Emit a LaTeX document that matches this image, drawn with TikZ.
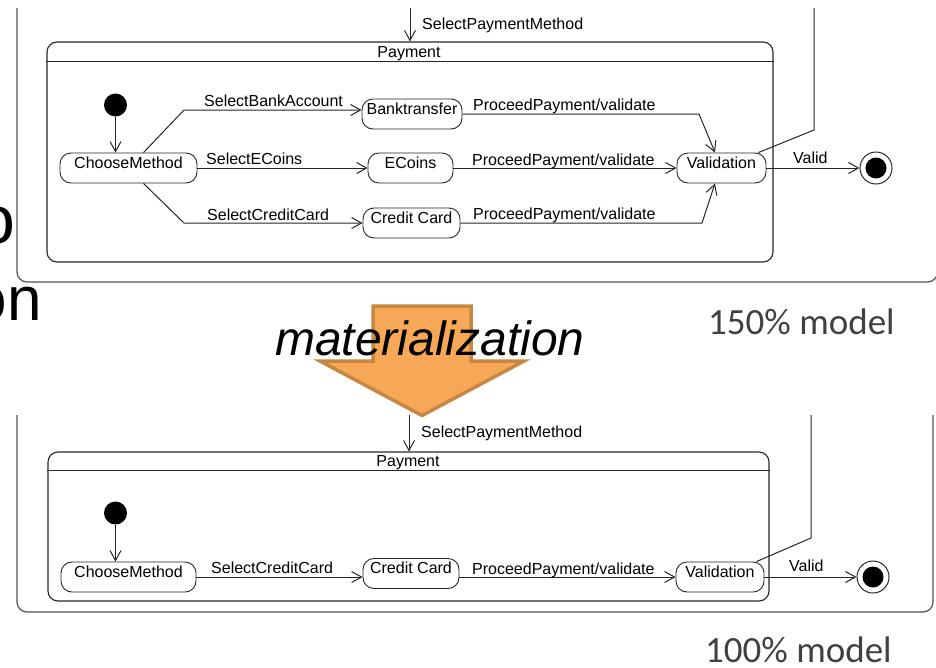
\documentclass[tikz,border=0pt]{standalone}
\usepackage{fontspec}
\setmainfont{Liberation Sans}
\newfontfamily\calibfont{Carlito}
\usetikzlibrary{arrows.meta}

\definecolor{linecol}{HTML}{262626}
\definecolor{framecol}{HTML}{505050}
\definecolor{arrowfill}{RGB}{247,168,86}
\definecolor{arrowedge}{RGB}{200,135,65}
\definecolor{notecol}{HTML}{404040}

\tikzset{
  umlstate/.style={draw=linecol, line width=0.9pt, rounded corners=11pt,
    inner xsep=0pt, inner ysep=3.5pt, text height=11.5pt, text depth=11.5pt,
    font=\fontsize{16}{18}\selectfont},
  composite/.style={draw=linecol, line width=1.1pt, rounded corners=10pt, inner sep=0pt},
  outerframe/.style={draw=framecol, line width=1.2pt, rounded corners=10pt},
  initst/.style={circle, fill=black, minimum size=23pt, inner sep=0pt},
  finalst/.style={circle, draw=linecol, line width=1pt, minimum size=32pt, inner sep=0pt,
    path picture={\fill[black] (path picture bounding box.center) circle (10.5pt);}},
  trans/.style={draw=linecol, line width=1pt,
    -{Straight Barb[length=10pt, width=11pt, line width=1pt]}},
  flow/.style={draw=linecol, line width=1pt},
  lbl/.style={font=\fontsize{16}{18}\selectfont, inner sep=0pt, anchor=base west},
  bigtext/.style={inner sep=0pt, anchor=base east},
  modelnote/.style={font=\calibfont\fontsize{37}{40}\selectfont, text=notecol,
    inner sep=0pt, anchor=base west},
}

\begin{document}
\begin{tikzpicture}[x=1pt, y=-1pt]
\useasboundingbox (0,0) rectangle (936,667);
\clip (0,0) rectangle (936,667);

% slide text running in from the left
\node[bigtext, font=\fontsize{68}{70}\selectfont] (slidea) at (16,243) {o};
\node[bigtext, font=\fontsize{62}{64}\selectfont] (slideb) at (42,320) {on};

% ---------- upper state machine (150% model) ----------
\draw[outerframe] (17,8) -- (17,282) -- (937.5,282) -- (937.5,8);

\node[composite, minimum width=726pt, minimum height=220pt] (pay1) at (410,152) {};
\draw[composite] ([yshift=-20pt]pay1.north west) -- ([yshift=-20pt]pay1.north east);
\node[lbl, anchor=base] (pay1t) at (409,57) {Payment};

\coordinate (src1) at (410,8);
\draw[trans] (src1) -- (src1 |- pay1.north);
\node[lbl] (src1l) at (422,29) {SelectPaymentMethod};

\node[initst] (init1) at (115.5,105) {};
\node[umlstate, minimum width=137pt] (cm1) at (128.5,168) {ChooseMethod};
\node[umlstate, minimum width=100pt] (bt1) at (412,114) {Banktransfer};
\node[umlstate, minimum width=85pt] (ec1) at (410.5,168) {ECoins};
\node[umlstate, minimum width=97pt] (cc1) at (411.5,223) {Credit Card};
\node[umlstate, minimum width=89pt] (va1) at (721.5,168) {Validation};
\node[finalst] (fin1) at (876,168) {};

\draw[trans] (init1.south) -- (init1.south |- cm1.north);
\draw[trans] ([xshift=15pt]cm1.north) -- (184,110) -- ([yshift=4pt]bt1.west);
\draw[trans] (cm1) -- (ec1);
\draw[trans] ([xshift=15pt]cm1.south) -- (184,223) -- (cc1.west);
\draw[trans] (bt1.east) -- (699,114) -- ([xshift=-6.5pt]va1.north);
\draw[trans] (ec1) -- (va1);
\draw[trans] (cc1.east) -- (702,223) -- ([xshift=-6.5pt]va1.south);
\draw[trans] (va1) -- (fin1);
\coordinate (exit1) at (814,8);
\draw[flow] ([xshift=-8pt]va1.north east) -- (814,130) -- (exit1);

\node[lbl] at (204,106) {SelectBankAccount};
\node[lbl] at (206,164) {SelectECoins};
\node[lbl] at (207,220) {SelectCreditCard};
\node[lbl] at (473,110) {ProceedPayment/validate};
\node[lbl] at (472,165) {ProceedPayment/validate};
\node[lbl] at (473,219) {ProceedPayment/validate};
\node[lbl] at (793,163) {Valid};

\node[modelnote] (note1) at (708,334) {150\% model};

% ---------- materialization step ----------
\draw[fill=arrowfill, draw=arrowedge, line width=3.5pt, miter limit=10]
  (373,306) -- (471,306) -- (471,361) -- (524,361) -- (422,415.5)
  -- (320,361) -- (373,361) -- cycle;
\node[font=\fontsize{48}{50}\selectfont\itshape, inner sep=0pt, anchor=base west]
  (mat) at (275,355) {materialization};

% ---------- lower state machine (100% model) ----------
\draw[outerframe] (17,415) -- (17,612) -- (933,612) -- (933,415);

\node[composite, minimum width=721pt, minimum height=149pt] (pay2) at (408.5,526.5) {};
\draw[composite] ([yshift=-19pt]pay2.north west) -- ([yshift=-19pt]pay2.north east);
\node[lbl, anchor=base] (pay2t) at (408,466) {Payment};

\coordinate (src2) at (409,415);
\draw[trans] (src2) -- (src2 |- pay2.north);
\node[lbl] (src2l) at (421,437) {SelectPaymentMethod};

\node[initst] (init2) at (115.5,513) {};
\node[umlstate, minimum width=135pt] (cm2) at (128.5,577) {ChooseMethod};
\node[umlstate, minimum width=96pt] (cc2) at (411,573.5) {Credit Card};
\node[umlstate, minimum width=88pt] (va2) at (720,577) {Validation};
\node[finalst] (fin2) at (873,577) {};

\draw[trans] (init2.south) -- (init2.south |- cm2.north);
\draw[trans] (cm2.east) -- ([yshift=-3.5pt]cc2.west);
\draw[trans] ([yshift=-3.5pt]cc2.east) -- (va2.west);
\draw[trans] (va2) -- (fin2);
\coordinate (exit2) at (811,415);
\draw[flow] ([xshift=-8pt]va2.north east) -- (811,538) -- (exit2);

\node[lbl] at (211,573) {SelectCreditCard};
\node[lbl] at (472,574) {ProceedPayment/validate};
\node[lbl] at (789,571) {Valid};

\node[modelnote] (note2) at (705,662) {100\% model};
\end{tikzpicture}
\end{document}
